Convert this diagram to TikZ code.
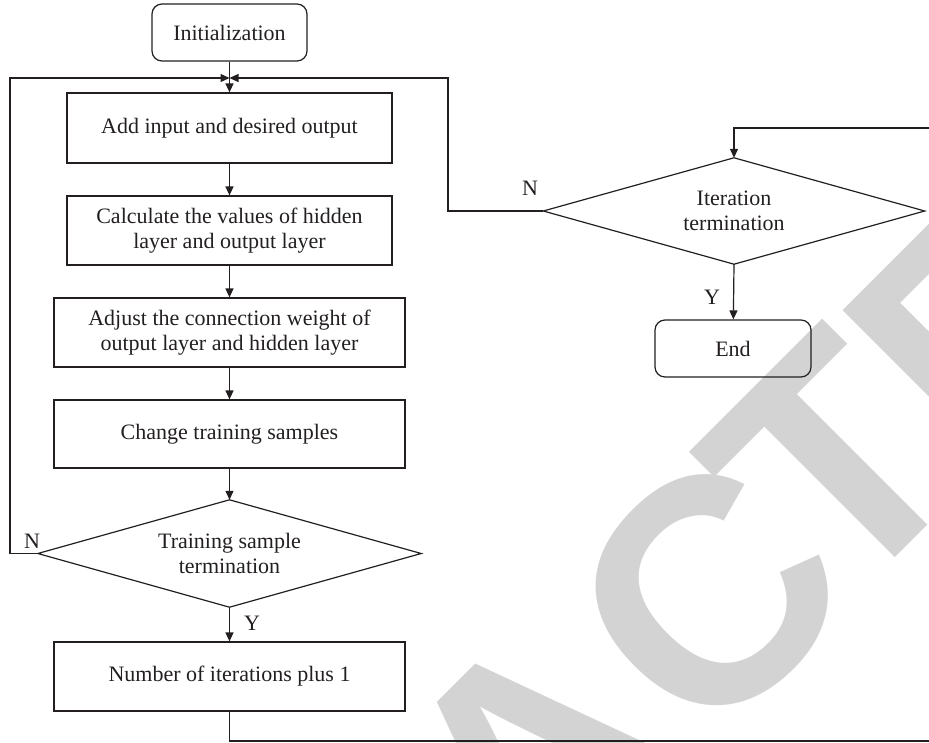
\documentclass[tikz,border=0pt]{standalone}
\usepackage{fontspec}
\setmainfont{Liberation Serif}
\newfontfamily\wmfont{Liberation Sans}
\usetikzlibrary{arrows.meta}
\definecolor{ink}{HTML}{231F20}
\definecolor{wm}{HTML}{D3D3D3}
\begin{document}
\begin{tikzpicture}[x=1pt,y=-1pt,
  every node/.style={font=\fontsize{22}{25.5}\selectfont, text=ink},
  line/.style={draw=ink, line width=1.2pt},
  arr/.style={line, -{Triangle[length=9pt,width=8pt]}},
  procbox/.style={line, rectangle, inner sep=0pt, align=center},
  termbox/.style={line, rectangle, rounded corners=10pt, inner sep=0pt, align=center},
  decbox/.style={rectangle, inner sep=0pt, align=center},
  wmletter/.style={font=\wmfont\bfseries\fontsize{320}{320}\selectfont, text=wm, rotate=45, anchor=base, inner sep=0pt}
]
\useasboundingbox (0,0) rectangle (929,742);
% watermark
\node[wmletter] (wA) at (612,839) {A};
\node[wmletter] (wC) at (786,673) {C};
\node[wmletter] (wT) at (912,541) {T};
\node[wmletter] (wE) at (1059,406) {E};
% nodes
\node[termbox, minimum width=155pt, minimum height=57pt] (init) at (229.5,32.5) {Initialization};
\node[procbox, minimum width=325pt, minimum height=70pt] (add) at (229.5,128) {Add input and desired output};
\node[procbox, minimum width=325pt, minimum height=69pt] (calc) at (229.5,230.5) {Calculate the values of hidden\\layer and output layer};
\node[procbox, minimum width=351pt, minimum height=69pt] (adj) at (229.5,332.5) {Adjust the connection weight of\\output layer and hidden layer};
\node[procbox, minimum width=351pt, minimum height=68pt] (chg) at (229.5,434) {Change training samples};
\node[decbox, minimum width=383pt, minimum height=107pt] (train) at (229.5,553.5) {Training sample\\termination};
\node[procbox, minimum width=351pt, minimum height=69pt] (num) at (229.5,676.5) {Number of iterations plus 1};
\node[decbox, minimum width=381pt, minimum height=106pt] (iter) at (734,211) {Iteration\\termination};
\node[termbox, minimum width=156pt, minimum height=57pt] (end) at (733,348.5) {End};
% diamond outlines
\draw[line] (train.west) -- (train.north) -- (train.east) -- (train.south) -- cycle;
\draw[line] (iter.west) -- (iter.north) -- (iter.east) -- (iter.south) -- cycle;
% labels
\node (nl) at (32,541) {N};
\node (nr) at (530,188) {N};
\node (yl) at (252,623) {Y};
\node (yr) at (712,297) {Y};
% coordinates
\coordinate (j) at (229.5,78);
\coordinate (lft) at (10,553.5);
\coordinate (mid) at (448,211);
\coordinate (bot) at (229.5,741);
\coordinate (far) at (940,741);
\coordinate (top) at (940,128);
% connectors
\draw[arr] (init) -- (add);
\draw[arr] (add) -- (calc);
\draw[arr] (calc) -- (adj);
\draw[arr] (adj) -- (chg);
\draw[arr] (chg) -- (train.north);
\draw[arr] (train.south) -- (num);
\draw[arr] (train.west) -- (lft) |- (j);
\draw[arr] (iter.west) -- (mid) |- (j);
\draw[arr] (num.south) -- (bot) -- (far) -- (top) -| (iter.north);
\draw[arr] (iter.south) -- (end);
\end{tikzpicture}
\end{document}
